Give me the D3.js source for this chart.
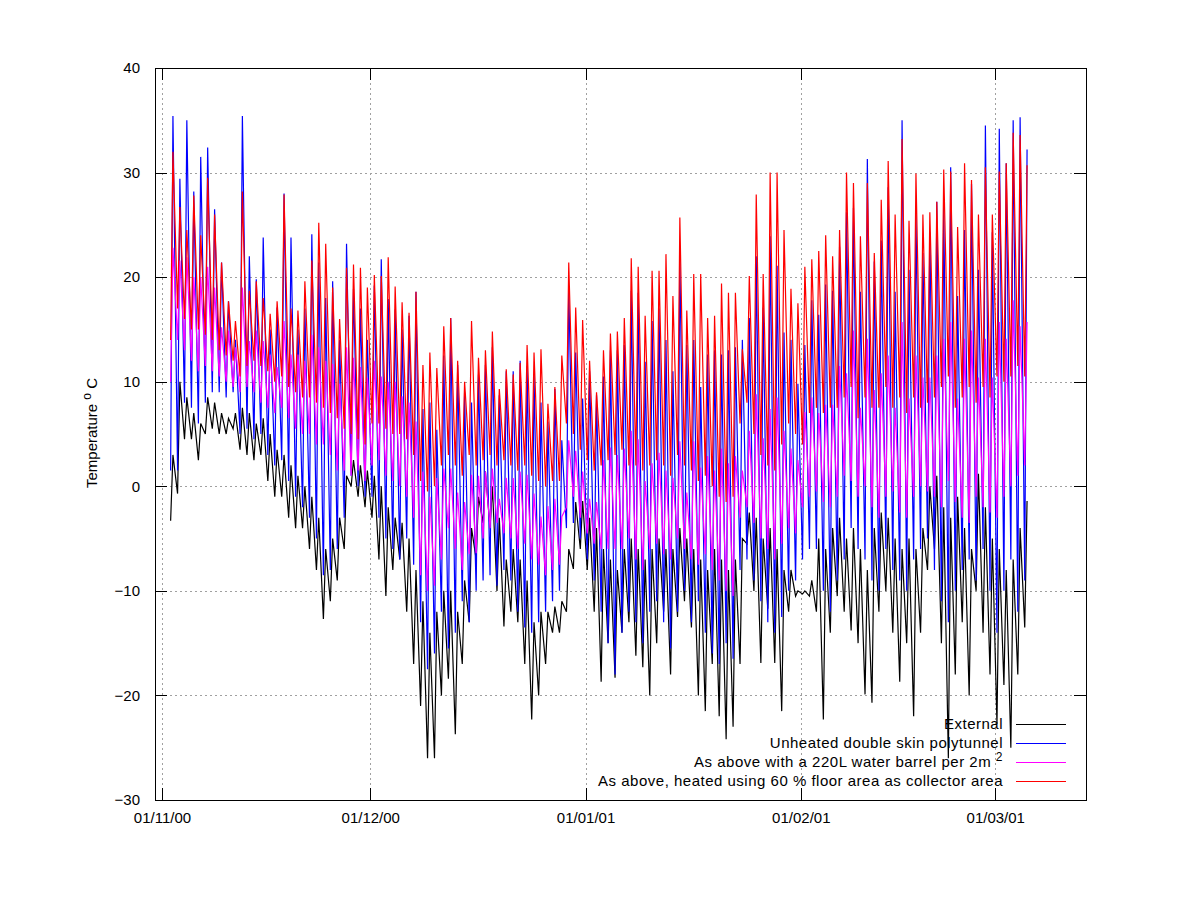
<!DOCTYPE html>
<html>
<head>
<meta charset="utf-8">
<script src="https://cdn.jsdelivr.net/npm/d3@7"></script>
<style>
  body { margin: 0; background: #fff; }
  text { font-family: "Liberation Sans", Arial, sans-serif; fill: #000; }
</style>
</head>
<body>
<div id="chart"></div>
<script>
var margin = {top: 68, right: 114.5, bottom: 100, left: 155};
var width = 1200 - margin.left - margin.right;
var height = 900 - margin.top - margin.bottom;

// one value per day, 2 Nov 2000 .. 5 Mar 2001 (daily low at night, daily high around 2pm)
var firstDay = Date.UTC(2000, 10, 2);

var externalMax = [3, 10, 8.5, 7, 6, 8.5, 8, 7, 6.5, 7, 7.5, 7, 6, 6.5, 5, 3.5, 3, 2, 1, 0, -1, -3, -6, -5, -3, 1, 2.5, 2, 1.5,
  1, 0, -2, -3, -3.5, -5, -8, -11, -14, -12, -10, -10, -12, -9, -4, -1, 1.4, 0, -3, -7, -6, -7, -9, -13, -12, -12, -11.5, -11, -6, -1.5, -1.4, -3,
  -4, -6, -7, -8, -6, -5, -6, -7, -6, -5, -6, -6, -4, -5, -6, -7, -8, -6, -7, -8, -7, -5, -2.5, -3, -5, -4, -6, -8, -8, -10, -10, -9,
  -5, -6, -4, -3, -5, -4, -6, -8, -4, -2.5, -3, -5, -6, -5, -6, -4, 0, 1, -2, -3, -1, -4, -6, 1.2, -2, -5, -6, -8, -7, -4, -1.4];
var externalMin = [-3.3, -0.7, 4.5, 4.5, 2.5, 5, 5.5, 5, 5, 5.5, 3.5, 3, 2.5, 3, 0.5, -1, -1, -3, -4, -4, -6, -8, -12.7, -11, -9, -6, 0, -1, -2,
  -3, -7, -10.5, -8, -7, -12, -17, -21, -26, -26, -20, -18.4, -23.7, -17, -13, -7, -3.5, -4, -10, -13.4, -12, -13, -17, -22.3, -20, -17, -14, -14, -12, -7.9, -6, -8,
  -12, -18.7, -15, -18.3, -14, -13, -16.2, -17.3, -20, -15, -12, -18, -12.5, -11, -13.5, -20, -21.5, -17, -22, -24.2, -23, -17, -5.5, -10, -16.9, -11.7, -16.9, -21.5, -12, -10.5, -10.3, -10.5,
  -12, -22.3, -14, -10.5, -12, -13.8, -15, -19.9, -20.7, -12, -10, -14, -18.7, -15, -22, -14, -8, -6, -15, -26, -18, -13, -20, -10, -14, -18, -22.7, -19, -25, -18, -13.5];

var unheatedMax = [35.4, 29.4, 35, 28.2, 31.5, 32.4, 26.5, 21.4, 17.7, 14, 35.4, 22, 19.8, 23.8, 15, 17.1, 28, 23.8, 15, 17, 24.1, 21.4, 18, 19.6, 14, 23.2, 18.9, 17, 14,
  19.2, 21.7, 17.9, 16.9, 15, 16.3, 18.6, 7.4, 8, 5.4, 12.5, 16.1, 11.6, 9, 8, 10.7, 11.6, 13.3, 8.7, 11, 11, 12, 11.5, 10.7, 8, 6.2, 9.3, 4.4, 19.1, 12.8, 8.4, 11,
  8.7, 10.5, 13, 13, 13.5, 18.7, 18.5, 11.9, 15.8, 17, 14, 11, 21.8, 13.5, 14, 9.5, 12.6, 13, 12.6, 13, 13.3, 14, 16.1, 22, 17.1, 23.9, 21.1, 14.7, 14, 9.8, 13.5, 17.8,
  16.4, 19.3, 18.7, 22.9, 26.2, 26.6, 18.6, 31.3, 21.5, 23.5, 28.6, 18.6, 35, 20.7, 26, 22.3, 24.3, 27.2, 26.8, 30.5, 18.2, 24.5, 28.9, 20.7, 34.5, 24.3, 34.2, 30.9, 35, 35.3, 32.2];
var unheatedMin = [1.5, 1.5, 8, 7.5, 6, 8, 9, 9, 8.5, 9, 5, 5.5, 4.5, 5, 3, 2, 2.5, 0.5, -1, -2, -3, -5, -8.5, -8, -6, -3, 1, 0, -1,
  -1, -3, -5, -6, -7, -5, -7.5, -13, -17.5, -16, -12, -15.5, -14, -11, -13, -10, -9, -8.5, -9.5, -8, -9, -12, -13.5, -14, -13, -12, -11, -10, -4, -3.5, -5, -7,
  -9, -12, -15, -18, -14, -12, -13, -15, -12, -11, -13, -15.5, -12, -10, -13, -11, -14, -16, -17, -15, -16.5, -8, -7, -9, -11, -13, -14, -12.5, -10, -9, -7, -6,
  -6, -10, -12, -9, -7, -4, -6, -7, -9, -10, -6, -8, -9, -10, -7, -6, -5, -8, -11, -13, -10, -8, -7, -9, -6, -10, -14, -10, -7, -12, -9];

var barrelMax = [22.8, 21.6, 21.9, 20, 20, 21, 19, 15.2, 14.9, 13.3, 19, 13.9, 14.9, 13.9, 12.6, 11.4, 15.8, 12.6, 12.6, 12, 14.5, 13.3, 12, 11.7, 9.8, 13.3, 12.3, 11.4, 10.4,
  12, 10.5, 10, 10, 8.6, 8, 6.2, 1.4, -1, 0.8, 1.7, 1.7, -0.6, -1.5, 1.1, 1, 1.4, 1.7, -1.2, 0.8, 0.8, 1.4, 1.1, -0.7, -2.9, -1.9, -1.2, -2.9, 4.4, 3.4, 1.4, -1.2,
  -1.5, 2.5, 3.7, 3, 3.6, 5.3, 4.5, 0.5, 2.2, 3.2, 1.5, 0.8, 4.3, -0.6, 4.3, 1.8, 2.9, 1.5, 3.6, 2.2, 2.9, 1.5, 5.3, 8.8, 4.6, 7.4, 8.5, 5.3, 3.6, 2.5, 7.1, 8.5,
  7, 7.8, 7.8, 11.5, 10.8, 14.9, 7.5, 14.1, 9.2, 10.8, 12.5, 7.5, 15.7, 8.4, 12.5, 10.4, 10.4, 12.5, 14.1, 15.7, 8.4, 14.1, 14.9, 10.4, 14.1, 10.4, 15.7, 14.1, 17.8, 15.3, 15.7];
var barrelMin = [10, 14, 13, 12, 11, 11.5, 11, 10.5, 10, 9.5, 9, 9.5, 9, 8, 7.5, 7, 7.5, 6.5, 5.5, 5, 5, 4, 4, 3, 1.5, 1.5, 1, 1.5, 0.5,
  2, 2.5, 1, 0.5, 0, -1, -3, -8.5, -10, -9.5, -7, -4, -6, -8, -6.5, -6.4, -5, -4, -3.5, -4.5, -5, -6, -5.5, -7, -7.5, -8.5, -8, -7.5, -2, -1, -3, -4.5,
  -5.5, -6, -6, -6, -6, -5, -7, -8, -6, -5.5, -6.5, -7, -5, -6, -7, -7.5, -6.5, -8, -9, -10, -10.5, -3, -2, -3.5, -5, -6, -7, -5.5, -4, -4.5, -2, -1,
  -0.5, -1.5, -2, -1, 1, 0.5, -1, 0, -2, -3, -1, -0.5, -2.5, -3, -1, 0, -0.5, -1, -2, 0.5, -1.5, -3, -3.5, -1, -2, -2.5, -3, -1, 0, 1, 2];

var heatedMax = [32, 26.7, 24.5, 27.8, 24, 29.5, 26, 21.4, 17.7, 15.8, 28.2, 18.7, 19.6, 18, 16.5, 17.7, 27.9, 17, 16.8, 19.6, 21.6, 25.2, 23.2, 19, 16, 20.9, 21.2, 20.9, 19,
  20.2, 20.1, 21.9, 19.1, 17.6, 16.6, 18.6, 11.6, 12.8, 11.3, 15.3, 16.1, 12, 10, 15.8, 12.3, 13, 14.8, 9.3, 11.2, 10.7, 11.8, 13.5, 12.8, 13.1, 7.9, 9.5, 12.5, 21.4, 17.1, 15.9, 12,
  9, 13, 14.6, 14.8, 16.1, 21.8, 21, 16.3, 20.6, 20.6, 22.2, 18.2, 25.7, 16.8, 20.3, 20.3, 16.1, 16.3, 19.4, 18.5, 18.5, 13.1, 20.1, 27.9, 20.3, 30, 30, 24.5, 18.9, 17.5, 21, 21.7,
  22.5, 24, 22, 24.5, 30, 29, 23.9, 29, 22.3, 27.4, 31.1, 26, 33.2, 25.4, 29.9, 26, 26.2, 27.2, 30.3, 30.1, 24.8, 30.9, 29.3, 26, 30.5, 26, 30.1, 30.9, 33.8, 33.6, 30.7];
var heatedMin = [14, 17, 16, 15, 15, 14.5, 14, 13, 12.5, 12, 10.5, 11.5, 12, 11.5, 11, 10, 10.5, 9.5, 9, 8.5, 8.5, 8, 7.5, 7, 6.5, 5.5, 5, 4.5, 4,
  6, 6, 5.5, 5, 5, 4.5, 3, 0.5, -0.5, 0, 2, 3, 2, 1, 3, 2, 2.5, 3, 2, 2.5, 2, 1.5, 2, 1, 0.5, 0, 0.5, 0.5, 6, 5, 3.5, 2.5,
  1.5, 2, 2.5, 3, 3.5, 2, 2, 1.5, 2, 2.5, 2, 1, 3, 2, 1.5, 0.5, 1, 0, -1, -1.5, -1, 6, 8, 5, 3, 2, 1.5, 4, 6, 5, 4, 7,
  7.5, 7, 7.5, 7.5, 8.5, 9.5, 6.5, 8.5, 7.5, 7.5, 9.5, 7.5, 8.5, 7, 8.5, 7.5, 8, 8.5, 9.5, 10.5, 7.5, 8.5, 9.5, 8, 9.5, 8.5, 10.5, 10, 10.5, 11.5, 10.5];

var monthTicks = [Date.UTC(2000, 10, 1), Date.UTC(2000, 11, 1), Date.UTC(2001, 0, 1), Date.UTC(2001, 1, 1), Date.UTC(2001, 2, 1)];
var tempTicks = [-30, -20, -10, 0, 10, 20, 30, 40];

var series = [
  {name: "External", color: "#000000", min: externalMin, max: externalMax},
  {name: "Unheated double skin polytunnel", color: "#0000ff", min: unheatedMin, max: unheatedMax},
  {name: "As above with a 220L water barrel per 2m", sup: "2", color: "#ff00ff", min: barrelMin, max: barrelMax},
  {name: "As above, heated using 60 % floor area as collector area", color: "#ff0000", min: heatedMin, max: heatedMax}
];

var DAY = 86400000, HOUR = 3600000;

function toPoints(s) {
  var pts = [];
  s.min.forEach(function(v, i) {
    pts.push({date: new Date(firstDay + i * DAY + 6 * HOUR), value: v});
    pts.push({date: new Date(firstDay + i * DAY + 14 * HOUR), value: s.max[i]});
  });
  return pts;
}

var svg = d3.select("#chart")
  .append("svg")
  .attr("width", 1200)
  .attr("height", 900)
  .append("g")
  .attr("transform", "translate(" + margin.left + "," + margin.top + ")");

var x = d3.scaleUtc()
  .domain([Date.UTC(2000, 9, 31), Date.UTC(2001, 2, 14)])
  .range([0, width]);

var y = d3.scaleLinear()
  .domain([-30, 40])
  .range([height, 0]);

// grid
svg.append("g")
  .selectAll("line.h")
  .data(tempTicks.filter(function(t) { return t > -30 && t < 40; }))
  .enter().append("line")
  .attr("x1", 0).attr("x2", width)
  .attr("y1", function(d) { return Math.round(y(d)) + 0.5; })
  .attr("y2", function(d) { return Math.round(y(d)) + 0.5; })
  .attr("stroke", "#a0a0a0")
  .attr("stroke-dasharray", "2,3")
  .attr("shape-rendering", "crispEdges");

svg.append("g")
  .selectAll("line.v")
  .data(monthTicks)
  .enter().append("line")
  .attr("y1", 0).attr("y2", height)
  .attr("x1", function(d) { return Math.round(x(d)) + 0.5; })
  .attr("x2", function(d) { return Math.round(x(d)) + 0.5; })
  .attr("stroke", "#a0a0a0")
  .attr("stroke-dasharray", "2,3")
  .attr("shape-rendering", "crispEdges");

// data
var line = d3.line()
  .x(function(d) { return x(d.date); })
  .y(function(d) { return y(d.value); });

series.forEach(function(s) {
  svg.append("path")
    .datum(toPoints(s))
    .attr("fill", "none")
    .attr("stroke", s.color)
    .attr("stroke-width", 1.2)
    .attr("d", line);
});

// axes, ticks pointing inward
svg.append("g")
  .call(d3.axisLeft(y).tickValues(tempTicks).tickSizeInner(-12).tickSizeOuter(0).tickPadding(15));
svg.append("g")
  .attr("transform", "translate(" + width + ",0)")
  .call(d3.axisRight(y).tickValues(tempTicks).tickSizeInner(-12).tickSizeOuter(0).tickFormat(""));
svg.append("g")
  .attr("transform", "translate(0," + height + ")")
  .call(d3.axisBottom(x).tickValues(monthTicks).tickSizeInner(-12).tickSizeOuter(0).tickPadding(12)
    .tickFormat(d3.utcFormat("%d/%m/%y")));
svg.append("g")
  .call(d3.axisTop(x).tickValues(monthTicks).tickSizeInner(-12).tickSizeOuter(0).tickFormat(""));

svg.selectAll(".domain").remove();
svg.selectAll(".tick line").attr("stroke", "#000").attr("shape-rendering", "crispEdges");
svg.selectAll(".tick text").style("font-size", "15px").attr("font-family", null);

svg.append("rect")
  .attr("x", 0.5).attr("y", 0.5)
  .attr("width", width).attr("height", height)
  .attr("fill", "none")
  .attr("stroke", "#000")
  .attr("shape-rendering", "crispEdges");

// y label
var ylab = svg.append("text")
  .attr("transform", "translate(" + (97 - margin.left) + "," + (433 - margin.top) + ") rotate(-90)")
  .attr("text-anchor", "middle")
  .style("font-size", "15px");
ylab.append("tspan").text("Temperature ");
ylab.append("tspan").attr("dy", -6).style("font-size", "12px").text("o");
ylab.append("tspan").attr("dy", 6).text(" C");

// legend
var legend = svg.append("g");
series.forEach(function(s, i) {
  var ly = 656 + i * 19;
  var t = legend.append("text")
    .attr("x", 848)
    .attr("y", ly)
    .attr("dy", "0.35em")
    .attr("text-anchor", "end")
    .style("font-size", "15px")
    .style("letter-spacing", "0.5px")
    .text(s.name);
  if (s.sup) {
    t.append("tspan").text(" ");
    t.append("tspan").attr("dy", -6).style("font-size", "12px").text(s.sup);
  }
  legend.append("line")
    .attr("x1", 861).attr("x2", 911)
    .attr("y1", ly + 0.5).attr("y2", ly + 0.5)
    .attr("stroke", s.color)
    .attr("shape-rendering", "crispEdges");
});
</script>
</body>
</html>
